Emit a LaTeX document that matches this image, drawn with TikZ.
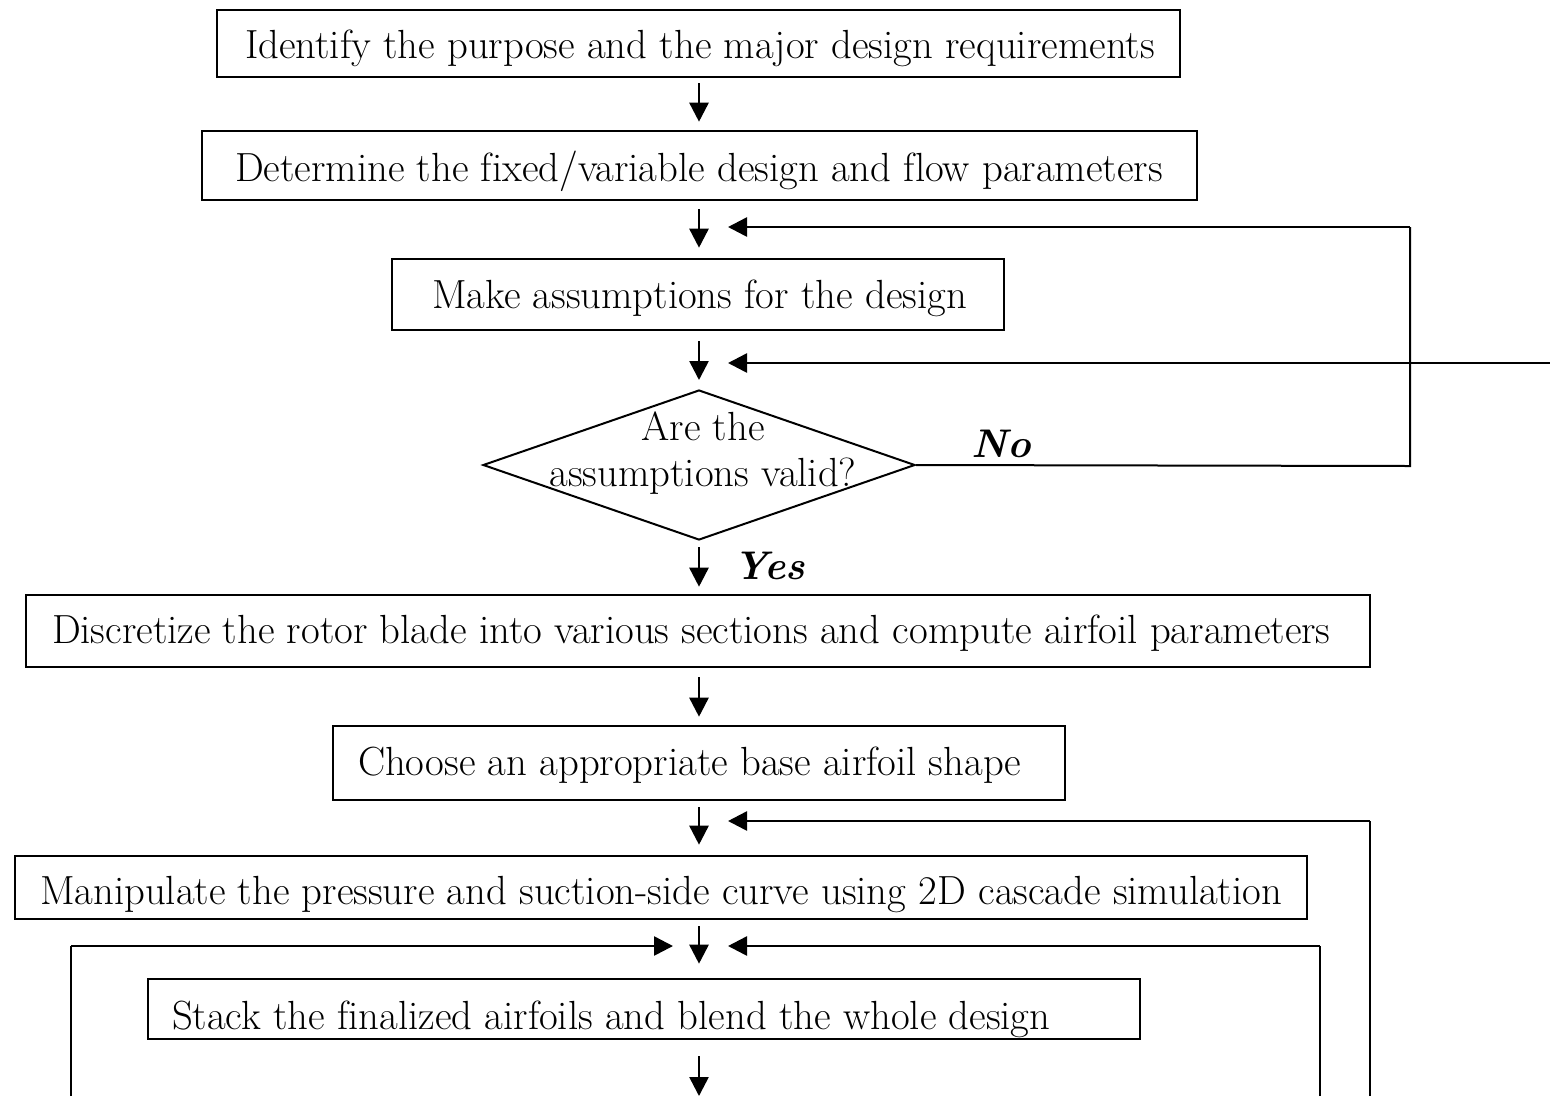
\documentclass[tikz,border=0pt]{standalone}
\usepackage{fontspec}
\usetikzlibrary{arrows.meta,shapes.geometric,calc}
\newcommand\nolig{\kern0pt }
\begin{document}
\begin{tikzpicture}[x=1pt,y=-1pt,
  txt/.style={font=\fontsize{40.7}{46}\selectfont},
  box/.style={draw,line width=2.6pt,rectangle,inner ysep=0pt,text depth=0pt,txt},
  arr/.style={line width=2.6pt,-{Triangle[length=19pt,width=19pt]}},
  loopline/.style={line width=2pt},
  lbl/.style={font=\fontsize{40}{46}\selectfont\bfseries\itshape,inner sep=0pt}]
\useasboundingbox (0,0) rectangle (1550,1096);
\coordinate (ax) at (699,0);
% boxes
\node[box,minimum width=963pt,minimum height=67pt,inner xsep=28pt,text height=30pt] (b1) at (698.5,43.5)
  {\makebox[907pt][l]{Identify the purpose and the major design requirements}};
\node[box,minimum width=995pt,minimum height=69pt,inner xsep=33pt,text height=32pt] (b2) at (699.5,165.5)
  {\makebox[929pt][l]{Determine the f\nolig ixed/variable design and f\nolig low parameters}};
\node[box,minimum width=612pt,minimum height=71pt,inner xsep=40pt,text height=28pt] (b3) at (698,294.5)
  {\makebox[532pt][l]{Make assumptions for the design}};
\node[draw,line width=2pt,diamond,minimum width=432pt,minimum height=150pt,inner sep=0pt] (dia) at (699,465) {};
\node[txt,align=center,inner sep=0pt] (diatxt) at (703,453) {Are the\\[0pt]assumptions valid?};
\node[box,minimum width=1344pt,minimum height=72pt,inner xsep=26pt,text height=24pt] (b4) at (698,631)
  {\makebox[1292pt][l]{Discretize the rotor blade into various sections and compute airfoil parameters}};
\node[box,minimum width=732pt,minimum height=74pt,inner xsep=25pt,text height=24pt] (b5) at (699,763)
  {\makebox[682pt][l]{Choose an appropriate base airfoil shape}};
\node[box,minimum width=1292pt,minimum height=63pt,inner xsep=25pt,text height=34pt] (b6) at (661,887.5)
  {\makebox[1242pt][l]{Manipulate the pressure and suction-side curve using 2D cascade simulation}};
\node[box,minimum width=992pt,minimum height=60pt,inner xsep=24pt,text height=40pt] (b7) at (644,1009)
  {\makebox[944pt][l]{Stack the f\nolig inalized airfoils and blend the whole design}};
% labels
\node[lbl] (no) at (1001,444) {No};
\node[lbl] (yes) at (769,566) {Yes};
% main vertical arrows
\draw[arr,shorten <=5pt,shorten >=8pt] (b1.south -| ax) -- (b2.north -| ax);
\draw[arr,shorten <=8pt,shorten >=10pt] (b2.south -| ax) -- (b3.north -| ax);
\draw[arr,shorten <=10pt,shorten >=9pt] (b3.south -| ax) -- (dia.north);
\draw[arr,shorten <=6pt,shorten >=7pt] (dia.south) -- (b4.north -| ax);
\draw[arr,shorten <=9pt,shorten >=8pt] (b4.south -| ax) -- (b5.north -| ax);
\draw[arr,shorten <=6pt,shorten >=10pt] (b5.south -| ax) -- (b6.north -| ax);
\draw[arr,shorten <=6pt,shorten >=14pt] (b6.south -| ax) -- (b7.north -| ax);
\coordinate (bot) at (699,1096);
\draw[arr,shorten <=16pt] (b7.south -| ax) -- (bot);
% feedback loops
\coordinate (nR) at (1410,466);
\coordinate (nT) at (1410,227);
\coordinate (in3) at (728,227);
\draw[loopline] (dia.east) -- (nR) -- (nT);
\draw[arr] (nT) -- (in3);
\coordinate (ext) at (1550,363);
\coordinate (in4) at (728,363);
\draw[arr] (ext) -- (in4);
\coordinate (r1b) at (1370,1096);
\coordinate (r1t) at (1370,821);
\coordinate (in6) at (728,821);
\draw[loopline] (r1b) -- (r1t);
\draw[arr] (r1t) -- (in6);
\coordinate (l2b) at (71,1096);
\coordinate (l2t) at (71,946);
\coordinate (in7l) at (673,946);
\draw[loopline] (l2b) -- (l2t);
\draw[arr] (l2t) -- (in7l);
\coordinate (r2b) at (1320,1096);
\coordinate (r2t) at (1320,946);
\coordinate (in7r) at (728,946);
\draw[loopline] (r2b) -- (r2t);
\draw[arr] (r2t) -- (in7r);
\end{tikzpicture}
\end{document}
